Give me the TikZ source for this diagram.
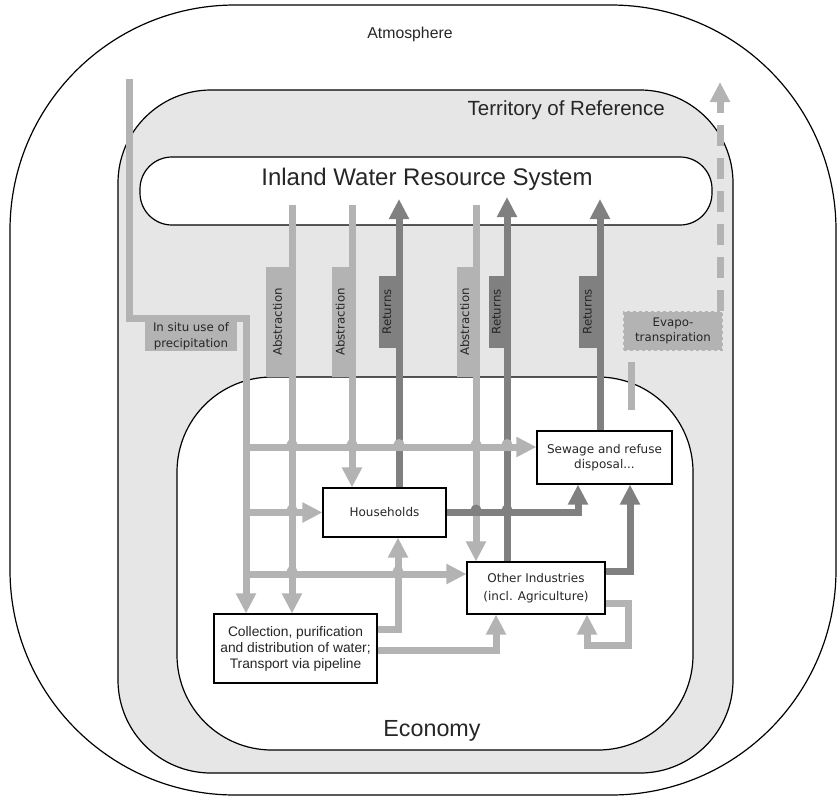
\documentclass[tikz,border=0pt]{standalone}
\usepackage{fontspec}
\setmainfont{Liberation Sans}
\newfontfamily\dvs{DejaVu Sans}
\usetikzlibrary{arrows.meta}
\definecolor{lg}{HTML}{B3B3B3}
\definecolor{dg}{HTML}{808080}
\definecolor{terr}{HTML}{E6E6E6}
\definecolor{txt}{HTML}{262626}
\tikzset{
  region/.style={draw=black, line width=1.2pt},
  flowl/.style={draw=lg, line width=7pt},
  flowd/.style={draw=dg, line width=7pt},
  arr/.style={-{Triangle[length=20pt,width=19pt]}},
  box/.style={draw=black, line width=1.1pt, fill=white, inner sep=0pt, align=center, text=txt, font=\dvs\fontsize{12}{15}\selectfont},
  lblbox/.style={fill=lg, inner sep=0pt, align=center, text=txt, font=\dvs\fontsize{11.8}{15.5}\selectfont},
  bigtext/.style={text=txt, inner sep=0pt}
}
\begin{document}
\begin{tikzpicture}[x=1pt,y=-1pt]
\useasboundingbox (0,0) rectangle (837,796);

% regions
\draw[region, rounded corners=225pt] (10,5) rectangle (836,795);
\draw[region, fill=terr, rounded corners=93pt] (118,90) rectangle (733,773);
\draw[region, fill=white, rounded corners=95pt] (177,377) rectangle (693,750);
\node[region, fill=white, rounded corners=32pt, minimum width=572pt, minimum height=68pt, inner sep=0pt] (iwrs) at (426,191) {};

% big texts
\node[bigtext, anchor=base, font=\fontsize{15.8}{18}\selectfont] (atm) at (410,38) {Atmosphere};
\node[bigtext, anchor=base east, font=\fontsize{20.5}{24}\selectfont] (terrl) at (665,115) {Territory of Reference};
\node[bigtext, anchor=base, font=\fontsize{24}{28}\selectfont] (iwrsl) at (427,185) {Inland Water Resource System};
\node[bigtext, anchor=base, font=\fontsize{23.3}{28}\selectfont] (econ) at (432,736) {Economy};

% label boxes
\node[lblbox, rotate=90, minimum width=110pt, minimum height=22.5pt] (abs1) at (277.5,322) {Abstraction};
\node[lblbox, rotate=90, minimum width=110pt, minimum height=16.5pt] (abs2) at (340.25,322) {Abstraction};
\node[lblbox, rotate=90, minimum width=110pt, minimum height=16pt] (abs3) at (464.75,322) {Abstraction};
\node[lblbox, fill=dg, rotate=90, minimum width=72pt, minimum height=17pt] (ret1) at (387,312) {Returns};
\node[lblbox, fill=dg, rotate=90, minimum width=72pt, minimum height=15pt] (ret2) at (496.5,312) {Returns};
\node[lblbox, fill=dg, rotate=90, minimum width=72pt, minimum height=18pt] (ret3) at (587.5,312) {Returns};
\node[lblbox, minimum width=92pt, minimum height=30pt] (insitu) at (191,336) {In situ use of\\precipitation};
\node[lblbox, minimum width=98pt, minimum height=38pt, draw=lg, dashed, line width=2pt] (evap) at (673,331) {Evapo-\\transpiration};

% boxes
\node[box, minimum width=123pt, minimum height=49pt] (households) at (384.5,512.5) {Households};
\node[box, minimum width=135pt, minimum height=53pt] (sewage) at (604.5,457.5) {Sewage and refuse\\disposal...};
\node[box, minimum width=138pt, minimum height=52pt, font=\dvs\fontsize{12}{18}\selectfont] (other) at (536,588) {Other Industries\\(incl. Agriculture)};
\node[box, minimum width=163pt, minimum height=69pt, font=\fontsize{13.8}{16}\selectfont] (collection) at (295.5,648.5) {Collection, purification\\and distribution of water;\\Transport via pipeline};

% vertical flows
\draw[flowl, arr] (129,79) |- (246,318) -- (246,0 |- collection.north);
\draw[flowl, arr] (292,205) -- (292,0 |- collection.north);
\draw[flowl, arr] (352,205) -- (352,0 |- households.north);
\draw[flowl, arr] (476,205) -- (476,0 |- other.north);
\draw[flowd, arr] (399,0 |- households.north) -- (399,199);
\draw[flowd, arr] (507,0 |- other.north) -- (507,197);
\draw[flowd, arr] (600,0 |- sewage.north) -- (600,199);
\draw[flowl, arr] (collection.east |- 0,629) -| (398,0 |- households.south);
\draw[flowl, arr] (collection.east |- 0,650) -| (496,0 |- other.south);
\draw[flowl, arr] (other.east |- 0,603) -- (628,603) -- (628,645) -| (587,0 |- other.south);

% horizontal flows
\draw[flowl, arr] (246,447) -- (sewage.west |- 0,447);
\draw[flowl, arr] (246,512.5) -- (households.west);
\draw[flowl, arr] (246,574) -- (other.west |- 0,574);
\draw[flowd, arr] (households.east) -| (578,0 |- sewage.south);
\draw[flowd, arr] (other.east |- 0,571) -| (630,0 |- sewage.south);

% hops
\foreach \x in {292,352,399,476,507} \fill[lg] (\x,444.5) circle (5.5pt);
\fill[lg] (292,510) circle (5.5pt);
\foreach \x in {292,398} \fill[lg] (\x,571.5) circle (5.5pt);
\foreach \x in {476,507} \fill[dg] (\x,510) circle (5.5pt);

% evapotranspiration
\draw[lg, line width=7pt, dash pattern=on 21pt off 12pt, arr] (720,0 |- evap.north) -- (720,82);
\draw[lg, line width=7pt, dash pattern=on 48pt off 12pt] (631,410) -- (631,0 |- evap.south);
\end{tikzpicture}
\end{document}
